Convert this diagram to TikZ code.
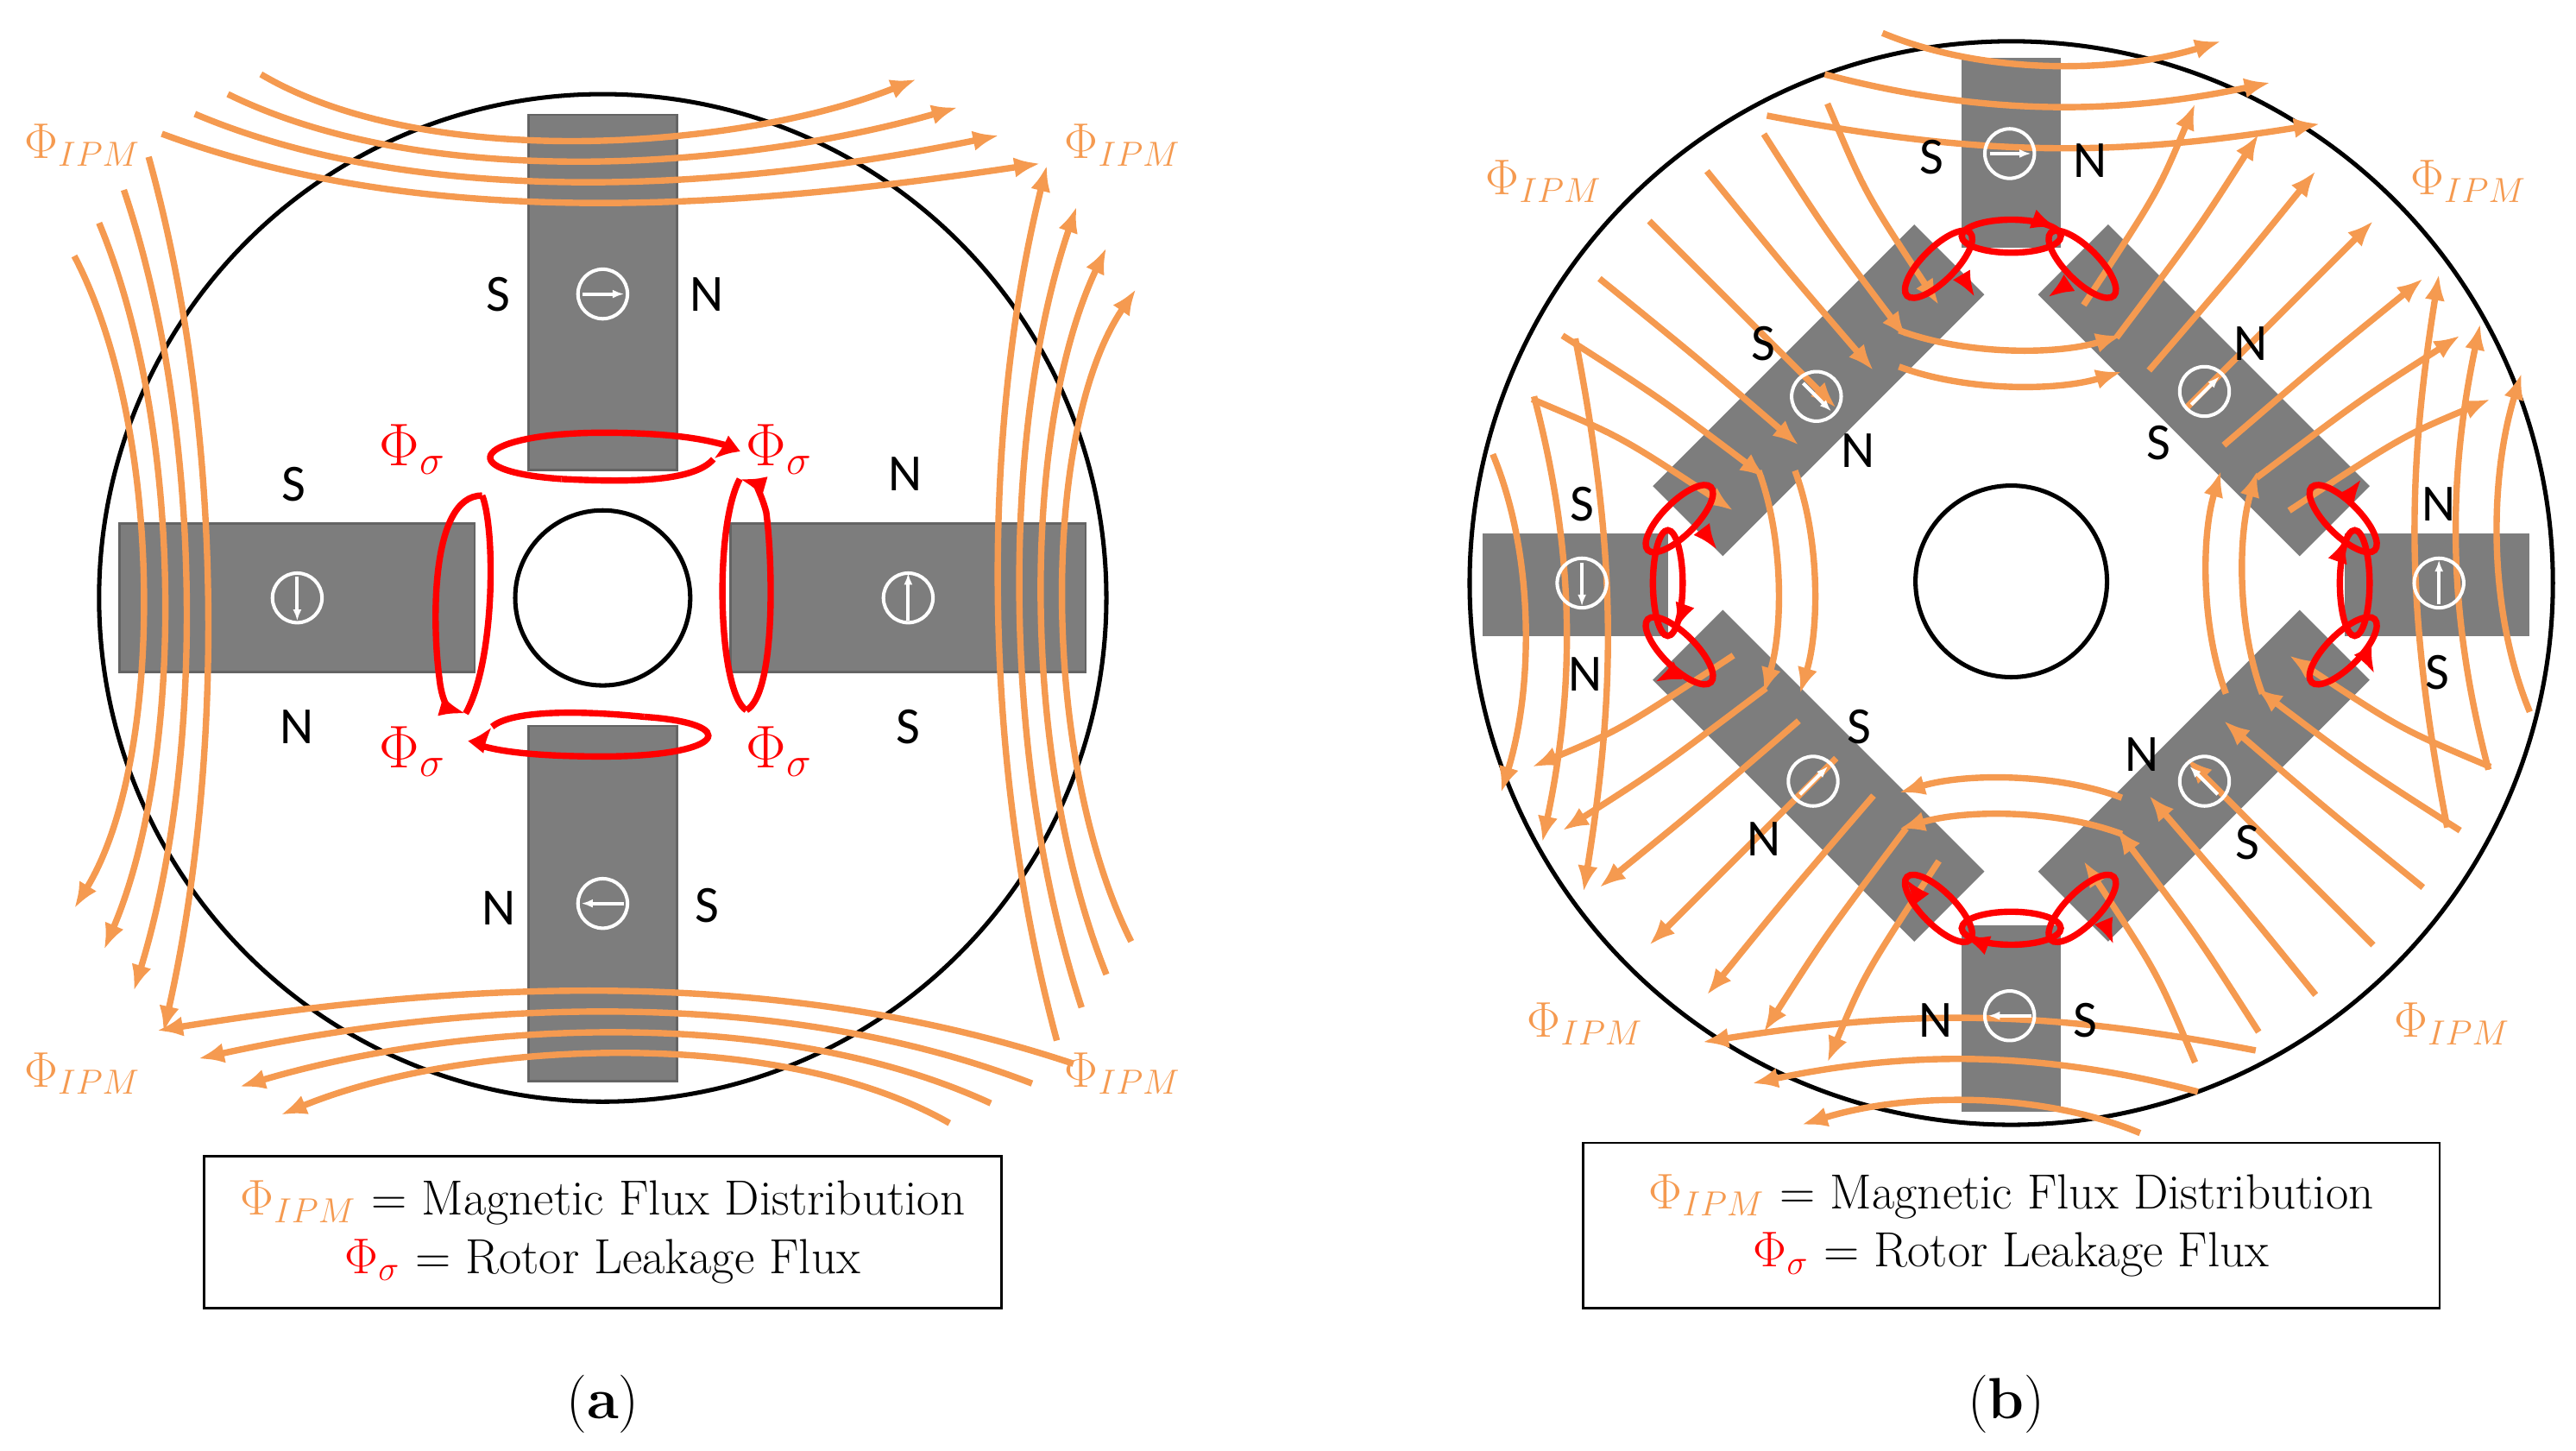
\documentclass[tikz,border=0pt]{standalone}
\usepackage{fontspec}
\newfontfamily\sn{Carlito}
\usetikzlibrary{arrows.meta}
\definecolor{org}{RGB}{245,154,80}
\definecolor{mg}{RGB}{125,125,125}
\begin{document}
\begin{tikzpicture}[x=0.02cm,y=-0.02cm,
 fl/.style={org,line width=2.2pt,-{Latex[length=9pt,width=7pt]}},
 lk/.style={red,line width=2.2pt,-{Latex[length=9pt,width=7pt]}},
 mag/.style={fill=mg,draw=mg!80!black,line width=0.8pt},
 pole/.style={font=\sn\fontsize{18}{20}\selectfont},
 phi/.style={org,font=\fontsize{18}{20}\selectfont},
 sig/.style={red,font=\fontsize{20}{22}\selectfont},
 leg/.style={draw,line width=0.8pt,minimum width=9.66cm,minimum height=1.84cm,align=center,font=\fontsize{17}{20}\selectfont}]
\useasboundingbox (0,0) rectangle (1560,878);
% ===================== (a)
\begin{scope}
\draw[line width=1.5pt] (365,362) circle (305);
\node[mag,minimum width=1.8cm,minimum height=4.3cm,inner sep=0] (mt) at (365,177) {};
\node[mag,minimum width=1.8cm,minimum height=4.3cm,inner sep=0] (mb) at (365,547) {};
\node[mag,minimum width=4.3cm,minimum height=1.8cm,inner sep=0] (ml) at (180,362) {};
\node[mag,minimum width=4.3cm,minimum height=1.8cm,inner sep=0] (mr) at (550,362) {};
\draw[line width=1.5pt] (365,362) circle (53);
\draw[white,line width=1.2pt] (365,178) circle (15); \draw[white,line width=1.2pt,-{Latex[length=4pt]}] (353,178)--(378,178);
\draw[white,line width=1.2pt] (180,362) circle (15); \draw[white,line width=1.2pt,-{Latex[length=4pt]}] (180,349)--(180,376);
\draw[white,line width=1.2pt] (550,362) circle (15); \draw[white,line width=1.2pt,-{Latex[length=4pt]}] (550,376)--(550,347);
\draw[white,line width=1.2pt] (365,547) circle (15); \draw[white,line width=1.2pt,-{Latex[length=4pt]}] (378,547)--(352,547);
\node[pole] at (302,178){S}; \node[pole] at (428,178){N};
\node[pole] at (178,293){S}; \node[pole] at (548,287){N};
\node[pole] at (180,440){N}; \node[pole] at (550,440){S};
\node[pole] at (302,550){N}; \node[pole] at (428,548){S};
% leakage
\draw[lk] (340,290) .. controls (270,285) and (290,262) .. (365,262) .. controls (430,262) and (440,272) .. (432,278);
\draw[red,line width=2.2pt] (432,278) .. controls (420,292) and (380,292) .. (340,290);
\draw[lk] (390,434) .. controls (450,438) and (440,458) .. (365,458) .. controls (300,458) and (290,450) .. (298,440);
\draw[red,line width=2.2pt] (298,440) .. controls (310,430) and (350,430) .. (390,434);
\draw[lk] (292,300) .. controls (260,300) and (262,380) .. (266,410) .. controls (268,430) and (275,430) .. (282,432);
\draw[red,line width=2.2pt] (292,300) .. controls (300,320) and (300,400) .. (282,432);
\draw[lk] (452,430) .. controls (470,420) and (468,340) .. (464,310) .. controls (460,295) and (455,292) .. (448,290);
\draw[red,line width=2.2pt] (452,430) .. controls (435,420) and (432,320) .. (448,290);
\node[sig] at (250,272){$\Phi_\sigma$}; \node[sig] at (472,272){$\Phi_\sigma$};
\node[sig] at (250,455){$\Phi_\sigma$}; \node[sig] at (472,455){$\Phi_\sigma$};
% flux
\foreach \i in {0,1,2,3}{
 \draw[fl] (158-20*\i,45+12*\i) .. controls (260,105+12*\i) and (450,90+12*\i) .. (555+25*\i,48+17*\i);
 \draw[fl] (575+25*\i,680-12*\i) .. controls (470,620-12*\i) and (280,630-12*\i) .. (170-25*\i,675-17*\i);
 \draw[fl] (45+15*\i,155-20*\i) .. controls (100+12*\i,260) and (100+12*\i,460) .. (45+18*\i,550+25*\i);
 \draw[fl] (685-15*\i,570+20*\i) .. controls (630-12*\i,460) and (630-12*\i,260) .. (688-18*\i,175-25*\i);
}
\node[phi] at (50,88){$\Phi_{IPM}$}; \node[phi] at (680,88){$\Phi_{IPM}$};
\node[phi] at (50,650){$\Phi_{IPM}$}; \node[phi] at (680,650){$\Phi_{IPM}$};
\node[leg] (la) at (365,746){\textcolor{org}{$\Phi_{IPM}$} = Magnetic Flux Distribution\\\textcolor{red}{$\Phi_\sigma$} = Rotor Leakage Flux};
\node[font=\fontsize{20}{22}\selectfont] at (365,850){(\textbf{a})};
\end{scope}
% ===================== (b)
\begin{scope}
\begin{scope}[shift={(1218,353)}]
 \foreach \a in {45,135,225,315}{
  \fill[mg,rotate=\a] (135,-112) rectangle (195,112);}
 \fill[mg] (-30,-318) rectangle (30,-203);
 \fill[mg] (-30,207) rectangle (30,320);
 \fill[mg] (-320,-30) rectangle (-208,32);
 \fill[mg] (202,-30) rectangle (314,32);
 \foreach \a/\o in {-45/0,45/1,135/0,225/1}{
  \begin{scope}[rotate=\a]
  \foreach \off in {-110,-75,-40,0,40,75,110}{
   \pgfmathsetmacro{\e}{320*sqrt(1-(1.15*\off/320)^2)-10}
   \ifnum\o=1
    \draw[fl] (150,0.8*\off) .. controls (230,0.95*\off) .. (\e,1.15*\off);
   \else
    \draw[fl] (\e,1.15*\off) .. controls (230,0.95*\off) .. (150,0.8*\off);
   \fi}
  \end{scope}}
\end{scope}
\draw[line width=1.5pt] (1218,353) circle (328);
\draw[line width=1.5pt] (1218,352) circle (58);
% outer arcs
\foreach \i in {0,1,2}{
 \draw[fl] (1140-35*\i,20+25*\i) .. controls (1200,45+25*\i) and (1280,45+25*\i) .. (1345+30*\i,25+25*\i);
 \draw[fl] (1296+35*\i,686-25*\i) .. controls (1236,661-25*\i) and (1156,661-25*\i) .. (1091-30*\i,681-25*\i);
 \draw[fl] (904+25*\i,275-35*\i) .. controls (929+25*\i,335) and (929+25*\i,415) .. (909+25*\i,480+30*\i);
 \draw[fl] (1532-25*\i,431+35*\i) .. controls (1507-25*\i,371) and (1507-25*\i,291) .. (1527-25*\i,226-30*\i);
}
% inner arcs
\foreach \i in {0,1}{
 \draw[fl] (1150,200+22*\i) .. controls (1190,215+22*\i) and (1245,215+22*\i) .. (1285,203+22*\i);
 \draw[fl] (1285,505-22*\i) .. controls (1245,490-22*\i) and (1190,490-22*\i) .. (1150,502-22*\i);
 \draw[fl] (1065+22*\i,285) .. controls (1080+22*\i,325) and (1080+22*\i,380) .. (1068+22*\i,420);
 \draw[fl] (1370-22*\i,420) .. controls (1355-22*\i,380) and (1355-22*\i,325) .. (1367-22*\i,285);
}
% leakage
\foreach \px/\py/\r in {1174/160/45,1261/160/-45,1017/314/45,1017/394/-45,1419/314/-45,1419/394/45,1174/550/-45,1261/550/45}{
 \draw[red,line width=2.2pt,rotate around={\r:(\px,\py)}] (\px,\py) ellipse (27 and 10);}
\draw[red,line width=2.2pt] (1218,143) ellipse (30 and 10);
\draw[red,line width=2.2pt] (1218,562) ellipse (30 and 10);
\draw[red,line width=2.2pt] (1010,353) ellipse (9 and 32);
\draw[red,line width=2.2pt] (1426,353) ellipse (9 and 32);
\draw[lk] (1235,134) -- (1246,138);
\draw[lk] (1200,571) -- (1189,567);
\draw[lk] (1019,370) -- (1015,381);
\draw[lk] (1417,336) -- (1421,325);
\draw[lk] (1190,170) -- (1196,180);
\draw[lk] (1252,172) -- (1240,180);
\draw[lk] (1034,325) -- (1040,333);
\draw[lk] (1012,408) -- (1002,413);
\draw[lk] (1433,398) -- (1438,408);
\draw[lk] (1424,298) -- (1430,290);
\draw[lk] (1160,540) -- (1154,532);
\draw[lk] (1275,560) -- (1280,572);
% symbols
\draw[white,line width=1.2pt] (1217,93) circle (15); \draw[white,line width=1.2pt,-{Latex[length=4pt]}] (1205,93)--(1230,93);
\draw[white,line width=1.2pt] (1217,615) circle (15); \draw[white,line width=1.2pt,-{Latex[length=4pt]}] (1230,615)--(1204,615);
\draw[white,line width=1.2pt] (958,353) circle (15); \draw[white,line width=1.2pt,-{Latex[length=4pt]}] (958,341)--(958,367);
\draw[white,line width=1.2pt] (1477,353) circle (15); \draw[white,line width=1.2pt,-{Latex[length=4pt]}] (1477,366)--(1477,339);
\draw[white,line width=1.2pt] (1100,240) circle (15); \draw[white,line width=1.2pt,-{Latex[length=4pt]}] (1092,232)--(1109,249);
\draw[white,line width=1.2pt] (1335,237) circle (15); \draw[white,line width=1.2pt,-{Latex[length=4pt]}] (1327,245)--(1344,228);
\draw[white,line width=1.2pt] (1098,473) circle (15); \draw[white,line width=1.2pt,-{Latex[length=4pt]}] (1090,481)--(1107,464);
\draw[white,line width=1.2pt] (1335,473) circle (15); \draw[white,line width=1.2pt,-{Latex[length=4pt]}] (1343,481)--(1326,464);
\node[pole] at (1170,95){S}; \node[pole] at (1266,97){N};
\node[pole] at (1068,208){S}; \node[pole] at (1125,273){N};
\node[pole] at (1363,208){N}; \node[pole] at (1307,268){S};
\node[pole] at (958,305){S}; \node[pole] at (960,408){N};
\node[pole] at (1477,305){N}; \node[pole] at (1476,407){S};
\node[pole] at (1126,440){S}; \node[pole] at (1068,508){N};
\node[pole] at (1297,457){N}; \node[pole] at (1361,510){S};
\node[pole] at (1172,618){N}; \node[pole] at (1263,618){S};
\node[phi] at (935,110){$\Phi_{IPM}$}; \node[phi] at (1495,110){$\Phi_{IPM}$};
\node[phi] at (960,620){$\Phi_{IPM}$}; \node[phi] at (1485,620){$\Phi_{IPM}$};
\node[leg,minimum width=10.38cm,minimum height=2cm] (lb) at (1218,742){\textcolor{org}{$\Phi_{IPM}$} = Magnetic Flux Distribution\\\textcolor{red}{$\Phi_\sigma$} = Rotor Leakage Flux};
\node[font=\fontsize{20}{22}\selectfont] at (1215,850){(\textbf{b})};
\end{scope}
\end{tikzpicture}
\end{document}
